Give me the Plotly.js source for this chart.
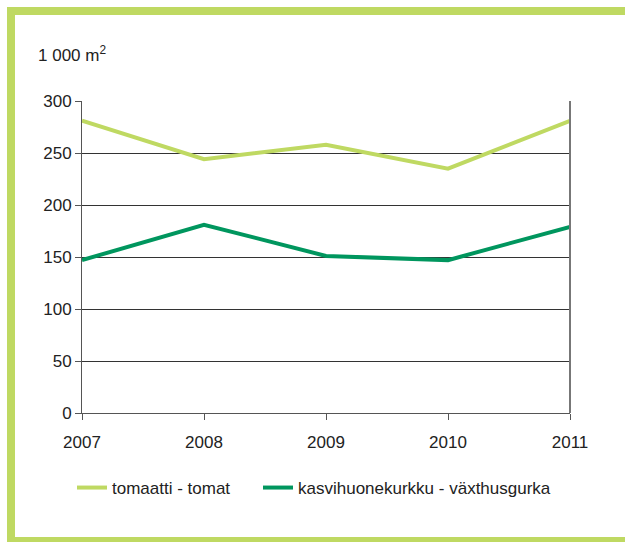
<!DOCTYPE html>
<html><head><meta charset="utf-8">
<script src="https://cdn.plot.ly/plotly-3.0.1.min.js"></script>
<style>
html,body{margin:0;padding:0;background:#fff;}
#wrap{position:relative;width:625px;height:542px;}
#chart{position:absolute;left:0;top:0;width:625px;height:542px;}
#frame{position:absolute;left:7px;top:7px;width:612px;height:522px;border:8px solid #bfd962;box-sizing:content-box;pointer-events:none;}
</style></head>
<body><div id="wrap"><div id="chart"></div><div id="frame"></div></div>
<script>
const years = ['2007','2008','2009','2010','2011'];
const tomato = [281, 244, 258, 235, 281];
const cucumber = [147, 181, 151, 147, 179];
const seriesNames = ['tomaatti - tomat', 'kasvihuonekurkku - växthusgurka'];
const yTicks = [0, 50, 100, 150, 200, 250, 300];
const FONT = 'Liberation Sans, Arial, sans-serif';

const traces = [
  {x: years, y: tomato, name: seriesNames[0], type: 'scatter', mode: 'lines',
   line: {color: '#bfd962', width: 4}, legend: 'legend'},
  {x: years, y: cucumber, name: seriesNames[1], type: 'scatter', mode: 'lines',
   line: {color: '#00965e', width: 4}, legend: 'legend2'}
];
const legendBase = {orientation: 'h', xref: 'container', yref: 'container',
  xanchor: 'left', y: 1 - 488/542, yanchor: 'middle',
  font: {family: FONT, size: 17, color: '#222'}, itemwidth: 30,
  bgcolor: 'rgba(0,0,0,0)'};
const layout = {
  width: 625, height: 542,
  margin: {l: 82, r: 55, t: 101, b: 129},
  paper_bgcolor: '#fff', plot_bgcolor: '#fff',
  font: {family: FONT, size: 17, color: '#222'},
  showlegend: true,
  title: {text: '1 000 m<sup>2</sup>', xref: 'container', yref: 'container',
          x: 38/625, xanchor: 'left', y: 1 - 55/542, yanchor: 'middle',
          font: {family: FONT, size: 17, color: '#222'}},
  xaxis: {type: 'category', range: [0, 4], showgrid: false, zeroline: false,
          showline: true, linecolor: '#555', linewidth: 1,
          ticks: 'outside', ticklen: 6, tickcolor: '#555',
          ticklabelstandoff: 8, fixedrange: true},
  yaxis: {range: [0, 300], tickvals: yTicks, ticktext: yTicks.map(String),
          showgrid: true, gridcolor: '#333', gridwidth: 1, zeroline: false,
          showline: true, linecolor: '#555', linewidth: 1,
          ticks: 'outside', ticklen: 6, tickcolor: '#555', fixedrange: true},
  shapes: [{type: 'line', xref: 'paper', yref: 'paper', x0: 1, x1: 1, y0: 0, y1: 1,
            line: {color: '#777', width: 2}}],
  legend: Object.assign({}, legendBase, {x: 72/625}),
  legend2: Object.assign({}, legendBase, {x: 258/625})
};
Plotly.newPlot('chart', traces, layout, {staticPlot: true, displayModeBar: false});
</script></body></html>
